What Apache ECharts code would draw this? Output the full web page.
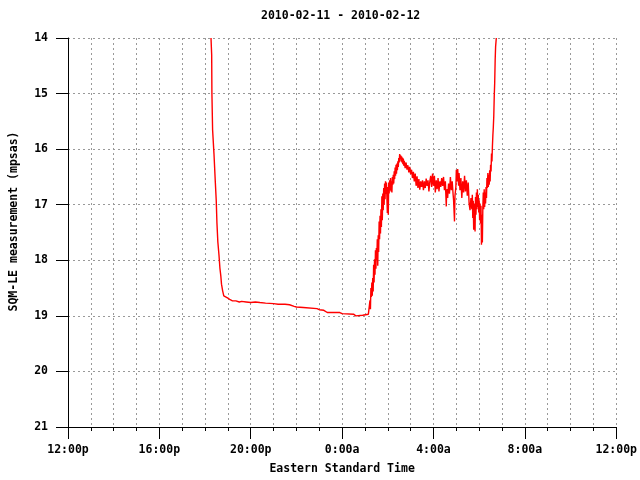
<!DOCTYPE html>
<html>
<head>
<meta charset="utf-8">
<script src="https://cdn.jsdelivr.net/npm/echarts@6/dist/echarts.min.js"></script>
<style>html,body{margin:0;padding:0;background:#fff}#c{width:640px;height:480px}</style>
</head>
<body>
<div id="c"></div>
<script>
// hours after 12:00p on 2010-02-11
const times = [
6.26,6.29,6.30,6.33,6.39,6.45,6.49,6.52,6.56,6.61,6.65,6.69,6.72,6.77,6.82,6.88,
7.00,7.10,7.20,7.25,7.35,7.50,7.60,7.80,8.00,8.20,8.40,8.65,9.00,9.20,9.50,9.70,9.75,9.90,
10.00,10.30,10.35,10.90,11.00,11.20,11.25,11.35,11.90,12.00,12.50,12.60,12.65,12.90,12.95,13.15,
13.20,13.22,13.24,13.26,13.28,13.30,13.32,13.34,13.36,13.38,13.40,13.42,13.44,13.46,13.48,13.50,
13.52,13.54,13.56,13.58,13.60,13.62,13.64,13.66,13.68,13.70,13.72,13.74,13.76,13.78,13.80,13.82,
13.84,13.86,13.88,13.90,13.92,13.94,13.96,13.98,14.00,14.02,14.04,14.06,14.08,14.10,14.12,14.14,
14.16,14.18,14.20,14.22,14.24,14.26,14.28,14.30,14.32,14.34,14.36,14.38,14.40,14.42,14.44,14.46,
14.48,14.50,14.52,14.54,14.56,14.58,14.60,14.62,14.64,14.66,14.68,14.70,14.72,14.74,14.76,14.80,
14.84,14.88,14.92,14.96,15.00,15.04,15.08,15.12,15.16,15.20,15.24,15.28,15.32,15.36,15.40,15.44,
15.48,15.52,15.56,15.60,15.64,15.68,15.72,15.76,15.80,15.84,15.88,15.92,15.96,16.00,16.04,16.08,
16.12,16.16,16.20,16.24,16.28,16.32,16.36,16.40,16.44,16.48,16.52,16.56,16.58,16.62,16.66,16.70,
16.74,16.78,16.82,16.86,16.88,16.92,16.94,16.98,17.00,17.04,17.06,17.10,17.12,17.16,17.20,17.24,
17.28,17.32,17.36,17.40,17.44,17.48,17.52,17.56,17.60,17.64,17.68,17.70,17.72,17.74,17.76,17.80,
17.82,17.84,17.86,17.88,17.90,17.92,17.94,17.96,17.98,18.00,18.02,18.04,18.06,18.08,18.10,18.12,
18.14,18.16,18.18,18.20,18.22,18.24,18.26,18.28,18.30,18.32,18.34,18.36,18.38,18.40,18.42,18.44,
18.46,18.48,18.50,18.52,18.54,18.56,18.58,18.60,18.62,18.64,18.66,18.68,18.70,18.72,18.75
];
const values = [
14.00,14.30,14.99,15.65,16.08,16.60,16.93,17.33,17.67,17.91,18.14,18.28,18.43,18.55,18.64,18.67,
18.68,18.71,18.73,18.72,18.73,18.75,18.74,18.75,18.76,18.75,18.76,18.77,18.78,18.79,18.79,18.80,18.82,18.83,
18.84,18.85,18.87,18.87,18.89,18.90,18.92,18.94,18.94,18.96,18.97,19.00,18.98,18.99,18.97,18.97,
18.95,18.72,18.88,18.50,18.66,18.40,18.64,18.32,18.56,18.08,18.40,17.98,18.26,17.82,18.15,17.78,
18.00,17.62,18.10,17.55,17.85,17.30,17.62,17.20,17.52,17.08,17.40,16.85,17.28,16.80,17.10,16.70,
17.00,16.62,16.90,16.58,16.80,16.60,16.85,17.15,16.68,17.18,16.60,16.80,16.56,16.74,16.52,16.76,
16.58,16.78,16.50,16.64,16.46,16.62,16.40,16.54,16.33,16.48,16.28,16.44,16.26,16.38,16.22,16.32,
16.16,16.24,16.09,16.17,16.11,16.22,16.13,16.24,16.15,16.27,16.17,16.30,16.21,16.28,16.34,16.24,
16.37,16.29,16.42,16.32,16.45,16.37,16.52,16.41,16.58,16.44,16.66,16.49,16.70,16.54,16.73,16.58,
16.68,16.56,16.74,16.58,16.70,16.53,16.66,16.56,16.76,16.58,16.48,16.68,16.44,16.66,16.48,16.78,
16.56,16.72,16.52,16.76,16.58,16.68,16.52,16.66,16.50,16.74,16.58,17.03,16.72,16.88,16.62,16.80,
16.50,16.74,16.58,16.82,16.92,17.30,16.84,16.68,16.37,16.58,16.36,16.66,16.43,16.74,16.52,16.88,
16.58,16.78,16.48,16.76,16.56,16.84,16.60,16.98,17.10,16.88,17.08,16.82,17.24,16.93,17.45,16.98,
17.48,16.86,17.18,16.78,17.08,16.72,17.04,16.82,17.14,16.92,17.28,16.98,17.34,17.02,17.72,17.18,
17.68,17.06,16.78,17.08,16.72,17.04,16.78,16.98,16.68,16.88,16.52,16.70,16.43,16.68,16.46,16.64,
16.38,16.58,16.28,16.40,16.08,16.22,15.95,15.75,15.60,15.40,15.05,14.80,14.40,14.15,14.00
];
const xTickLabels = {0:'12:00p',4:'16:00p',8:'20:00p',12:'0:00a',16:'4:00a',20:'8:00a',24:'12:00p'};
const titleText = '2010-02-11 - 2010-02-12';
const xName = 'Eastern Standard Time';
const yName = 'SQM-LE measurement (mpsas)';

const FONT = 'DejaVu Sans Mono';
const txt = {fontFamily: FONT, fontWeight: 'bold', fontSize: 11.5, color: '#000'};
const gridLine = {show: true, lineStyle: {color: '#999', type: [2, 3], width: 1}};

const chart = echarts.init(document.getElementById('c'), null, {renderer: 'canvas'});
chart.setOption({
  animation: false,
  backgroundColor: '#fff',
  title: {text: titleText, left: 261, top: 10, padding: 0, textStyle: txt},
  grid: {left: 67, right: 20, top: 38, bottom: 50, containLabel: false},
  xAxis: {
    type: 'value', min: 0, max: 24, interval: 4,
    name: xName, nameLocation: 'middle', nameGap: 36, nameTextStyle: txt,
    axisLine: {show: true, onZero: false, lineStyle: {color: '#000', width: 1}},
    axisTick: {show: true, length: 12, lineStyle: {color: '#000'}},
    minorTick: {show: true, splitNumber: 4, length: 4, lineStyle: {color: '#000'}},
    axisLabel: Object.assign({margin: 17, formatter: v => xTickLabels[v] || ''}, txt),
    splitLine: gridLine,
    minorSplitLine: gridLine
  },
  yAxis: {
    type: 'value', inverse: true, min: 14, max: 21, interval: 1,
    name: yName, nameLocation: 'middle', nameGap: 48,
    nameTextStyle: Object.assign({padding: [0, 0, 0, 22]}, txt),
    axisLine: {show: true, onZero: false, lineStyle: {color: '#000', width: 1}},
    axisTick: {show: true, length: 12, lineStyle: {color: '#000'}},
    axisLabel: Object.assign({margin: 20}, txt),
    splitLine: gridLine
  },
  series: [{
    type: 'line',
    data: times.map((t, i) => [t, values[i]]),
    showSymbol: false,
    clip: true,
    lineStyle: {color: '#ff0000', width: 1.4},
    itemStyle: {color: '#ff0000'}
  }]
});
</script>
</body>
</html>
